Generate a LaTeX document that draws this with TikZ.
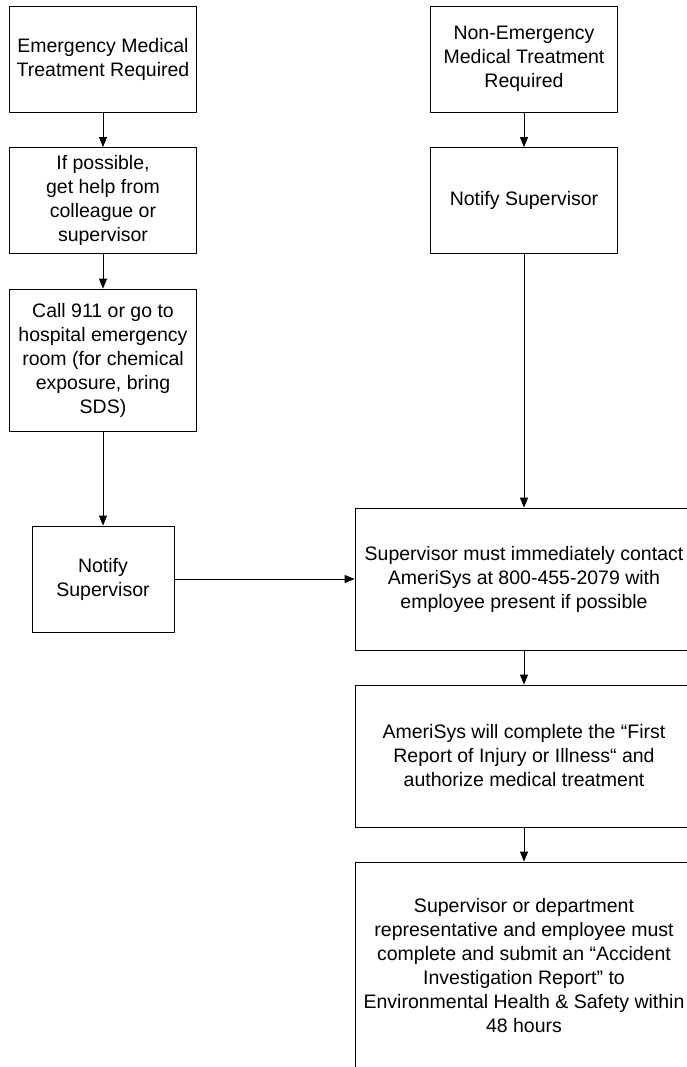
\documentclass[tikz,border=0pt]{standalone}
\usepackage{fontspec}
\setmainfont{Liberation Sans}
\usetikzlibrary{shapes.geometric, arrows.meta}

\begin{document}
\begin{tikzpicture}[x=1pt, y=-1pt]
		\tikzstyle{SmallBox} = [rectangle, minimum width=187pt, minimum height=106pt, align=center, draw=black, line width=0.8pt, fill=white, inner sep=0pt, font=\fontsize{19.5}{24}\selectfont]
		\tikzstyle{BigBox} = [SmallBox, minimum width=338pt, minimum height=142pt]
		\tikzstyle{arrow} = [line width=0.8pt, -{Triangle[width=8pt,length=10pt]}]
		
		%\draw[step=50,gray,very thin] (0,0) grid (687,1067);
		
		\useasboundingbox (0,0) rectangle (687,1067);
		\clip (0,0) rectangle (687,1067);
		
		% emergency side
		\node (emergNode) [SmallBox] at (103,59) {Emergency Medical\\Treatment Required};
		\node (helpNode) [SmallBox] at (103,200.5) {If possible,\\get help from\\colleague or\\supervisor};
		\node (callNode) [SmallBox, minimum height=142pt] at (103,360) {Call 911 or go to\\hospital emergency\\room (for chemical\\exposure, bring\\SDS)};
		\node (notifyLeftNode) [SmallBox, minimum width=142pt] at (103,579) {Notify\\Supervisor};
		
		% non-emergency side
		\node (nonEmergNode) [SmallBox] at (524,59) {Non-Emergency\\Medical Treatment\\Required};
		\node (notifyRightNode) [SmallBox] at (524,200.5) {Notify Supervisor};
		\node (contactNode) [BigBox] at (524,579) {Supervisor must immediately contact\\AmeriSys at 800-455-2079 with\\employee present if possible};
		\node (firstReportNode) [BigBox] at (524,756) {AmeriSys will complete the “First\\Report of Injury or Illness“ and\\authorize medical treatment};
		\node (reportNode) [BigBox, minimum height=208pt] at (524,966) {Supervisor or department\\representative and employee must\\complete and submit an “Accident\\Investigation Report” to\\Environmental Health \& Safety within\\48 hours};
		
		\draw [arrow] (emergNode) -- (helpNode);
		\draw [arrow] (helpNode) -- (callNode);
		\draw [arrow] (callNode) -- (notifyLeftNode);
		\draw [arrow] (notifyLeftNode) -- (contactNode);
		\draw [arrow] (nonEmergNode) -- (notifyRightNode);
		\draw [arrow] (notifyRightNode) -- (contactNode);
		\draw [arrow] (contactNode) -- (firstReportNode);
		\draw [arrow] (firstReportNode) -- (reportNode);
\end{tikzpicture}
\end{document}
